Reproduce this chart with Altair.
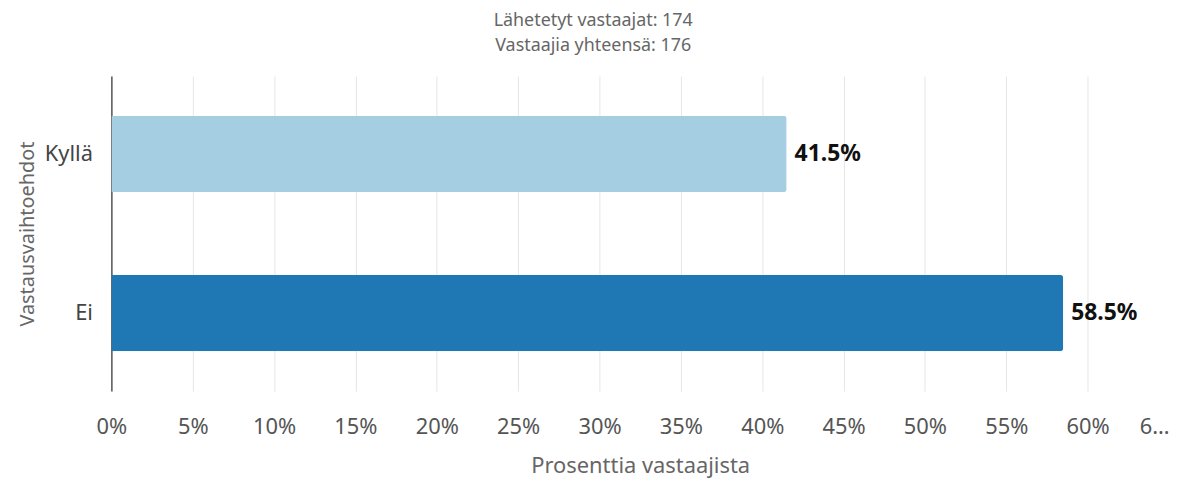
import altair as alt
import pandas as pd

categories = ["Kyllä", "Ei"]
values = [41.5, 58.5]
colors = ["#a6cee3", "#1f78b4"]
title_lines = ["Lähetetyt vastaajat: 174", "Vastaajia yhteensä: 176"]

df = pd.DataFrame({"cat": categories, "val": values, "label": [f"{v}%" for v in values]})
FONT = "Noto Sans"

base = alt.Chart(df).encode(
    y=alt.Y("cat:N", sort=categories,
            scale=alt.Scale(paddingInner=0.52, paddingOuter=0.25),
            axis=alt.Axis(title="Vastausvaihtoehdot", labelFontSize=22, labelColor="#444",
                          titleFontSize=20, titleColor="#666", titleFontWeight="normal",
                          ticks=False, labelPadding=19, titlePadding=7,
                          domainColor="#555", domainWidth=1.5, grid=False)),
)

bars = base.mark_bar(cornerRadiusTopRight=3, cornerRadiusBottomRight=3).encode(
    x=alt.X("val:Q", scale=alt.Scale(domain=[0, 65], nice=False),
            axis=alt.Axis(title="Prosenttia vastaajista", values=list(range(0, 70, 5)),
                          labelExpr="datum.value == 65 ? '6…' : datum.value + '%'",
                          labelAlign=alt.ExprRef("datum.value == 65 ? 'right' : 'center'"),
                          labelFontSize=22, labelColor="#555", ticks=False, domain=False,
                          labelPadding=26, titlePadding=18,
                          titleFontSize=22, titleColor="#666", titleFontWeight="normal",
                          gridColor="#e6e6e6", gridWidth=1)),
    color=alt.Color("cat:N", scale=alt.Scale(domain=categories, range=colors), legend=None),
)

text = base.mark_text(align="left", dx=8, fontSize=23, fontWeight="bold", color="#111", font=FONT).encode(
    x="val:Q", text="label:N"
)

chart = (bars + text).properties(
    width=1064, height=317, padding={"left": 9, "top": 3, "right": 0, "bottom": 4},
    title=alt.TitleParams(text=title_lines, fontSize=18, color="#666", fontWeight="normal",
                          anchor="middle", frame="bounds", offset=21, lineHeight=25, font=FONT),
).configure(font=FONT).configure_view(stroke=None)

chart.save("out.html", embed_options={"renderer": "svg", "actions": False})
